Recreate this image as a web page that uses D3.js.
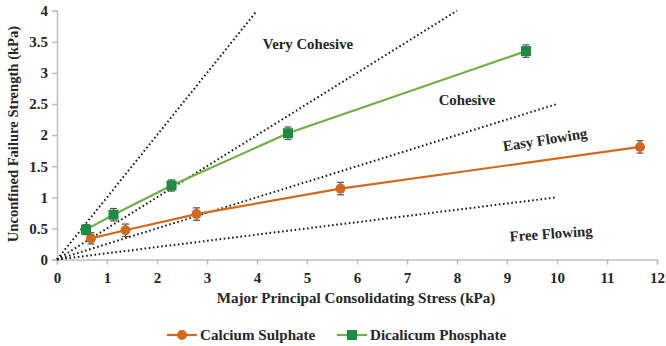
<!DOCTYPE html>
<html><head><meta charset="utf-8">
<script src="https://cdn.jsdelivr.net/npm/d3@7"></script>
<style>body{margin:0;background:#fff}svg{display:block}</style>
</head><body><svg id="c" width="666" height="346"></svg>
<script>
const xTicks = [0,1,2,3,4,5,6,7,8,9,10,11,12];
const yTicks = [0,0.5,1,1.5,2,2.5,3,3.5,4];
const yTickLabels = ["0","0.5","1","1.5","2","2.5","3","3.5","4"];
const csX = [0.68,1.37,2.79,5.67,11.66];
const csY = [0.34,0.47,0.73,1.14,1.81];
const csErr = [0.09,0.1,0.1,0.1,0.1];
const dpX = [0.58,1.13,2.29,4.62,9.38];
const dpY = [0.48,0.72,1.19,2.03,3.35];
const dpErr = [0.08,0.1,0.09,0.1,0.1];
const boundaryEndX = [4,8,10,10];
const boundaryEndY = [4,4,2.5,1];
const regionLabels = ["Very Cohesive","Cohesive","Easy Flowing","Free Flowing"];
const regionX = [5.02,8.2,9.76,9.88];
const regionY = [3.47,2.56,1.93,0.42];
const regionRot = [0,0,-9,-4];
const seriesNames = ["Calcium Sulphate","Dicalicum Phosphate"];

const FONT = "Liberation Serif, Tinos, Times New Roman, Times, DejaVu Serif, serif";
const svg = d3.select("#c").attr("font-family",FONT).attr("font-weight","bold");
const x = d3.scaleLinear().domain([0,12]).range([57,657]);
const y = d3.scaleLinear().domain([0,4]).range([259.5,10.7]);

const xAxis = d3.axisBottom(x).tickValues(xTicks).tickSize(5).tickPadding(8).tickFormat(d3.format("d"));
const gx = svg.append("g").attr("transform",`translate(0,${y(0)})`).call(xAxis);
const yAxis = d3.axisLeft(y).tickValues(yTicks).tickSize(5).tickPadding(4).tickFormat((d,i)=>yTickLabels[i]);
const gy = svg.append("g").attr("transform",`translate(${x(0)},0)`).call(yAxis);
[gx,gy].forEach(g=>{
  g.attr("font-family",FONT).attr("font-size",15).attr("font-weight","bold");
  g.select(".domain").attr("stroke","#bfbfbf").attr("stroke-width",1.5);
  g.selectAll(".tick line").attr("stroke","#bfbfbf").attr("stroke-width",1.5);
  g.selectAll(".tick text").attr("fill","#262626");
});

boundaryEndX.forEach((ex,i)=>{
  svg.append("line").attr("x1",x(0)).attr("y1",y(0)).attr("x2",x(ex)).attr("y2",y(boundaryEndY[i]))
    .attr("stroke","#1a1a1a").attr("stroke-width",2).attr("stroke-dasharray","1.6,2.6");
});

regionLabels.forEach((t,i)=>{
  svg.append("text").attr("transform",`translate(${x(regionX[i])},${y(regionY[i])}) rotate(${regionRot[i]})`)
    .attr("text-anchor","middle").attr("dy","0.35em").attr("font-size",14.8).attr("fill","#262626").text(t);
});

function series(xs,ys,errs,lineColor,markColor,shape){
  const pts = xs.map((v,i)=>({x:v,y:ys[i],e:errs[i]}));
  svg.append("path").datum(pts).attr("fill","none").attr("stroke",lineColor).attr("stroke-width",2.2)
    .attr("d",d3.line().x(d=>x(d.x)).y(d=>y(d.y)));
  const g = svg.append("g");
  pts.forEach(d=>{
    const cx=x(d.x), y1=y(d.y+d.e), y2=y(d.y-d.e);
    g.append("line").attr("x1",cx).attr("x2",cx).attr("y1",y1).attr("y2",y2).attr("stroke","#555").attr("stroke-width",1.2);
    [y1,y2].forEach(yy=>g.append("line").attr("x1",cx-3.5).attr("x2",cx+3.5).attr("y1",yy).attr("y2",yy).attr("stroke","#555").attr("stroke-width",1.2));
  });
  pts.forEach(d=>{
    if(shape==="circle") g.append("circle").attr("cx",x(d.x)).attr("cy",y(d.y)).attr("r",5).attr("fill",markColor);
    else g.append("rect").attr("x",x(d.x)-5).attr("y",y(d.y)-5).attr("width",10).attr("height",10).attr("fill",markColor);
  });
}
series(csX,csY,csErr,"#D2691E","#D2691E","circle");
series(dpX,dpY,dpErr,"#70B044","#1E8A44","rect");

svg.append("text").attr("x",356).attr("y",303).attr("text-anchor","middle").attr("font-size",15.1).attr("fill","#262626").text("Major Principal Consolidating Stress (kPa)");
svg.append("text").attr("transform","translate(18,134) rotate(-90)").attr("text-anchor","middle").attr("font-size",14.6).attr("fill","#262626").text("Unconfined Failure Strength (kPa)");

const leg = [{x:167,c:"#D2691E",m:"#D2691E",s:"circle"},{x:337,c:"#70B044",m:"#1E8A44",s:"rect"}];
leg.forEach((l,i)=>{
  const ly=335;
  svg.append("line").attr("x1",l.x).attr("x2",l.x+30).attr("y1",ly).attr("y2",ly).attr("stroke",l.c).attr("stroke-width",2.2);
  if(l.s==="circle") svg.append("circle").attr("cx",l.x+15).attr("cy",ly).attr("r",5).attr("fill",l.m);
  else svg.append("rect").attr("x",l.x+10).attr("y",ly-5).attr("width",10).attr("height",10).attr("fill",l.m);
  svg.append("text").attr("x",l.x+33).attr("y",ly).attr("dy","0.35em").attr("font-size",15.1).attr("fill","#262626").text(seriesNames[i]);
});
</script></body></html>
